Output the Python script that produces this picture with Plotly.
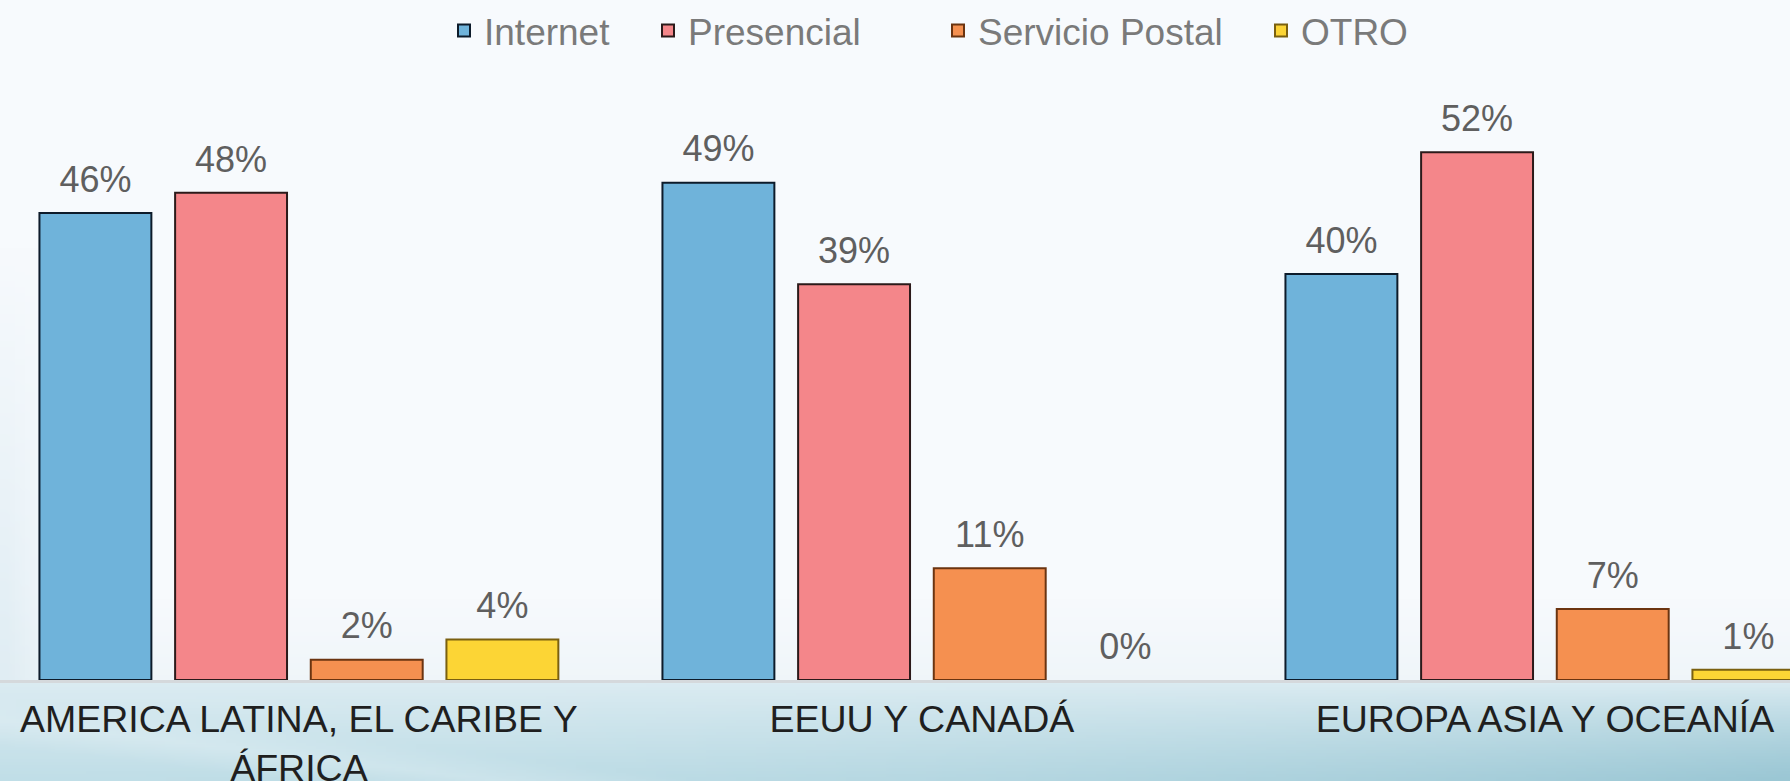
import base64
import struct
import zlib

import plotly.graph_objects as go

# ---------------- data ----------------
categories = ["AMERICA LATINA, EL CARIBE Y<br>ÁFRICA", "EEUU Y CANADÁ", "EUROPA ASIA Y OCEANÍA"]
series_names = ["Internet", "Presencial", "Servicio Postal", "OTRO"]
internet = [46, 49, 40]
presencial = [48, 39, 52]
servicio_postal = [2, 11, 7]
otro = [4, 0, 1]

# ---------------- styling ----------------
W, H = 1790, 781
M_L, M_R, M_T, M_B = 0, 0, 71, 101
PLOT_W = W - M_L - M_R
PLOT_H = H - M_T - M_B

fill_colors = ["#6fb3da", "#f4868a", "#f59050", "#fcd535"]
line_colors = ["#0d1b2a", "#2b1a1a", "#6b3410", "#7a6010"]
FONT = "Arial, Liberation Sans, sans-serif"
BARGAP = 0.129


# background image (light slide with a teal band at the bottom), built as a PNG data URI
def _lerp(a, b, t):
    t = max(0.0, min(1.0, t))
    return tuple(a[i] + (b[i] - a[i]) * t for i in range(3))


def _bg_pixel(fx, fy):
    top = (247, 250, 253)
    if fy < 681:
        c = top
        edge = max(0.0, 1 - fx / 70.0)
        t = max(0.0, (fy - 250) / 430.0) * edge
        c = _lerp(c, (222, 236, 243), t)
        t2 = max(0.0, (fy - 600) / 80.0) * 0.35
        c = _lerp(c, (226, 238, 243), t2)
        return c
    v = (fy - 681) / 100.0
    c = _lerp((220, 236, 242), (192, 222, 231), v)
    h = fx / W
    c = _lerp(c, (150, 196, 210), v * h * h * 0.9)
    d = abs((fy - 681) - (fx * 0.12 + 40))
    if fx < 700:
        c = _lerp(c, (232, 243, 247), max(0.0, 1 - d / 25.0) * 0.35)
    return c


def _png_data_uri(w, h, func):
    raw = bytearray()
    for j in range(h):
        raw.append(0)
        fy = (j + 0.5) * H / h
        for i in range(w):
            fx = (i + 0.5) * W / w
            r, g, b = func(fx, fy)
            raw += bytes((int(r), int(g), int(b)))

    def chunk(tag, data):
        c = tag + data
        return struct.pack(">I", len(data)) + c + struct.pack(">I", zlib.crc32(c) & 0xFFFFFFFF)

    png = b"\x89PNG\r\n\x1a\n"
    png += chunk(b"IHDR", struct.pack(">IIBBBBB", w, h, 8, 2, 0, 0, 0))
    png += chunk(b"IDAT", zlib.compress(bytes(raw), 9))
    png += chunk(b"IEND", b"")
    return "data:image/png;base64," + base64.b64encode(png).decode()


bg_uri = _png_data_uri(179, 260, _bg_pixel)

# ---------------- figure ----------------
fig = go.Figure()
values = [internet, presencial, servicio_postal, otro]
legend_ids = ["legend", "legend2", "legend3", "legend4"]
for name, vals, fc, lc, lg in zip(series_names, values, fill_colors, line_colors, legend_ids):
    fig.add_trace(
        go.Bar(
            name=name,
            x=categories,
            y=vals,
            offsetgroup=name,
            marker=dict(color=fc, line=dict(color=lc, width=[2 if v > 0 else 0 for v in vals])),
            legend=lg,
            hoverinfo="skip",
        )
    )

# value labels, grouped the same way as the bars
for name, vals in zip(series_names, values):
    fig.add_trace(
        go.Scatter(
            x=categories,
            y=vals,
            offsetgroup=name,
            mode="markers+text",
            marker=dict(size=18, opacity=0),
            text=[f"{v}%" for v in vals],
            textposition="top center",
            textfont=dict(family=FONT, size=36, color="#5f5f5f"),
            cliponaxis=False,
            showlegend=False,
            hoverinfo="skip",
        )
    )

symbol_centers = [469, 673, 963, 1286]
legend_common = dict(
    orientation="h",
    font=dict(family=FONT, size=37, color="#7a7a7a"),
    bgcolor="rgba(0,0,0,0)",
    yanchor="middle",
    y=1 + (M_T - 31) / PLOT_H,
    xanchor="left",
)
legend_layout = {}
for lg, cx in zip(legend_ids, symbol_centers):
    legend_layout[lg] = dict(legend_common, x=(cx - 25 - M_L) / PLOT_W)

unit = 623.0
center0 = 298.9
fig.update_layout(
    width=W,
    height=H,
    margin=dict(l=M_L, r=M_R, t=M_T, b=M_B, pad=0),
    paper_bgcolor="#f7fafd",
    plot_bgcolor="rgba(0,0,0,0)",
    barmode="group",
    bargap=BARGAP,
    bargroupgap=0.175,
    scattermode="group",
    scattergap=BARGAP,
    showlegend=True,
    font=dict(family=FONT),
    xaxis=dict(
        range=[-center0 / unit, (PLOT_W - center0) / unit],
        showline=True,
        linecolor="#d5d9dc",
        linewidth=3,
        ticks="",
        showgrid=False,
        zeroline=False,
        ticklabelstandoff=4,
        tickfont=dict(family=FONT, size=37.5, color="#1f1f1f"),
        automargin=False,
        fixedrange=True,
    ),
    yaxis=dict(range=[0, 60], visible=False, showgrid=False, zeroline=False, fixedrange=True),
    images=[
        dict(
            source=bg_uri,
            xref="paper",
            yref="paper",
            x=-M_L / PLOT_W,
            y=1 + M_T / PLOT_H,
            sizex=W / PLOT_W,
            sizey=H / PLOT_H,
            sizing="stretch",
            xanchor="left",
            yanchor="top",
            layer="below",
        )
    ],
    **legend_layout,
)

fig.write_html(
    "out.html",
    config={"displayModeBar": False},
    post_script="document.body.style.margin='0';document.body.style.overflow='hidden';",
)
